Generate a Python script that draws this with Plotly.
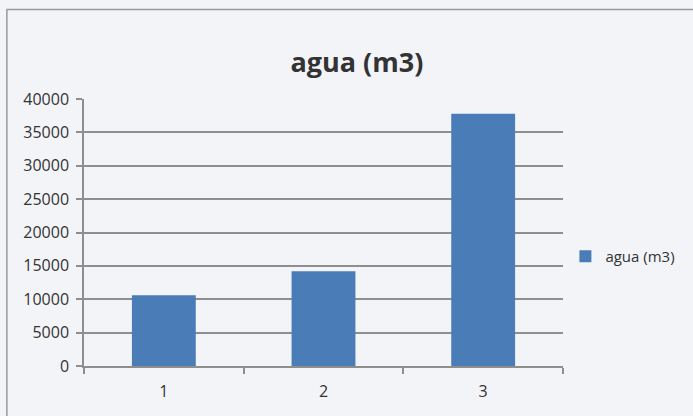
import plotly.graph_objects as go

# data
categories = [1, 2, 3]
agua_m3 = [10600, 14200, 37800]
y_ticks = [0, 5000, 10000, 15000, 20000, 25000, 30000, 35000, 40000]

BG = "#f3f4f8"
GRID = "#8e8e8e"
TEXT = "#333333"
FONT = "'Open Sans', sans-serif"

fig = go.Figure()

fig.add_trace(go.Bar(
    x=categories, y=agua_m3,
    name="agua (m3)",
    marker=dict(color="#4a7db8", line=dict(width=0)),
    width=0.4,
))

fig.update_layout(
    width=693, height=416,
    margin=dict(l=84, r=130, t=99, b=50),
    paper_bgcolor=BG, plot_bgcolor=BG,
    font=dict(family=FONT, color=TEXT, size=16),
    title=dict(text="<b>agua (m3)</b>", x=0.515, xanchor="center",
               y=0.85, yanchor="middle",
               font=dict(size=27, color=TEXT, family=FONT)),
    showlegend=True,
    legend=dict(x=1.005, y=0.41, xanchor="left", yanchor="middle",
                bgcolor="rgba(0,0,0,0)", font=dict(size=15, color=TEXT),
                itemwidth=30),
    # chart border from the scan (only the top and left edges are visible)
    shapes=[dict(type="rect", xref="paper", yref="paper",
                 x0=-0.161, x1=1.4, y0=-0.3, y1=1.335,
                 line=dict(color="#9a9a9a", width=1.5), layer="below")],
)

fig.update_xaxes(
    range=[0.5, 3.5],
    tickvals=categories, ticks="", showgrid=False,
    showline=True, linecolor=GRID, linewidth=1.5,
    tickfont=dict(size=16),
    ticklabelstandoff=10,
    minor=dict(tick0=0.5, dtick=1, ticks="outside", ticklen=6,
               tickcolor=GRID, tickwidth=1.5, showgrid=False),
    zeroline=False,
)

fig.update_yaxes(
    range=[0, 40000],
    tickvals=y_ticks, tickformat="d",
    ticks="outside", ticklen=6, tickcolor=GRID, tickwidth=1.5,
    showgrid=True, gridcolor=GRID, gridwidth=1.5,
    showline=True, linecolor=GRID, linewidth=1.5,
    tickfont=dict(size=16),
    ticklabelstandoff=4,
    zeroline=False,
)

fig.write_html("out.html", config={"displayModeBar": False},
               post_script="document.body.style.margin='0';")
